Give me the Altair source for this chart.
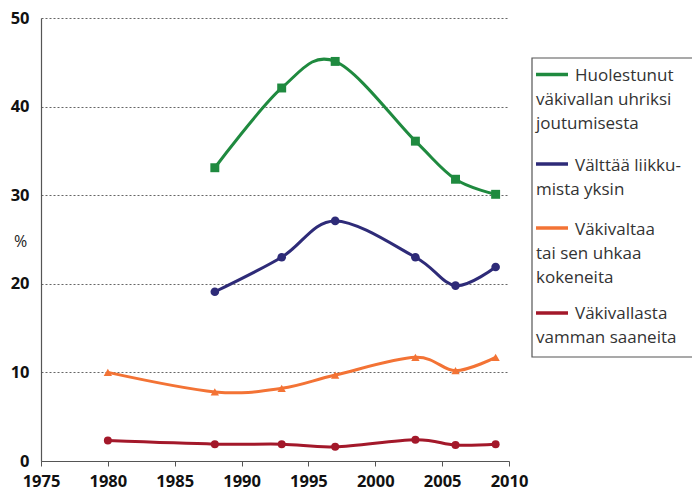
import altair as alt
import pandas as pd

years_green = [1988, 1993, 1997, 2003, 2006, 2009]
green = [33.1, 42.1, 45.1, 36.1, 31.8, 30.1]
years_blue = [1988, 1993, 1997, 2003, 2006, 2009]
blue = [19.1, 23.0, 27.1, 23.0, 19.8, 21.9]
years_orange = [1980, 1988, 1993, 1997, 2003, 2006, 2009]
orange = [10.0, 7.8, 8.2, 9.7, 11.7, 10.2, 11.7]
years_red = [1980, 1988, 1993, 1997, 2003, 2006, 2009]
red = [2.3, 1.9, 1.9, 1.6, 2.4, 1.8, 1.9]

series_keys = ["g", "b", "o", "r"]
series_colors = ["#1f8a3f", "#2e2b78", "#f37335", "#a3182a"]
series_shapes = ["square", "circle", "triangle-up", "circle"]
series_sizes = [80, 64, 140, 30]
legend_lines = [
    ["Huolestunut", "väkivallan uhriksi", "joutumisesta"],
    ["Välttää liikku-", "mista yksin"],
    [" Väkivaltaa", "tai sen uhkaa", "kokeneita"],
    ["Väkivallasta", "vamman saaneita"],
]
x_ticks = [1975, 1980, 1985, 1990, 1995, 2000, 2005, 2010]
y_ticks = [0, 10, 20, 30, 40, 50]

rows = []
for key, ys, vs in zip(series_keys, [years_green, years_blue, years_orange, years_red],
                       [green, blue, orange, red]):
    for y, v in zip(ys, vs):
        rows.append({"s": key, "year": y, "val": v})
df = pd.DataFrame(rows)

W, H = 468, 443
FONT = "Open Sans"

x_enc = alt.X("year:Q", scale=alt.Scale(domain=[1975, 2010], nice=False),
              axis=alt.Axis(values=x_ticks, format="d", title=None, grid=False,
                            labelFont=FONT, labelFontWeight="bold", labelFontSize=16.5,
                            labelColor="#111", labelPadding=7, tickSize=5,
                            tickColor="#555", domainColor="#555", domainWidth=1.2,
                            labelFlush=False))
y_enc = alt.Y("val:Q", scale=alt.Scale(domain=[0, 50], nice=False),
              axis=alt.Axis(values=y_ticks, title="%", titleAngle=0, titleX=-21, titleY=223,
                            titleAlign="center", titleBaseline="middle", titleFont=FONT,
                            titleFontSize=16, titleFontWeight="normal", titleColor="#222",
                            labelFont=FONT, labelFontWeight="bold", labelFontSize=16.5,
                            labelColor="#111", labelPadding=12, ticks=False,
                            grid=True, gridDash=[2, 2], gridColor="#666", gridWidth=1,
                            domainColor="#555", domainWidth=1.2))

color_scale = alt.Scale(domain=series_keys, range=series_colors)
shape_scale = alt.Scale(domain=series_keys, range=series_shapes)
size_scale = alt.Scale(domain=series_keys, range=series_sizes)

base = alt.Chart(df)
lines = base.mark_line(interpolate="cardinal", strokeWidth=3).encode(
    x=x_enc, y=y_enc,
    color=alt.Color("s:N", scale=color_scale, legend=None),
    detail="s:N",
)
points = base.mark_point(filled=True, opacity=1).encode(
    x="year:Q", y="val:Q",
    color=alt.Color("s:N", scale=color_scale, legend=None),
    shape=alt.Shape("s:N", scale=shape_scale, legend=None),
    size=alt.Size("s:N", scale=size_scale, legend=None),
)

dummy = alt.Chart(alt.Data(values=[{"a": 1}]))
layers = [lines, points]

# legend box
layers.append(dummy.mark_rect(fill=None, stroke="#555", strokeWidth=1.2).encode(
    x=alt.value(491), x2=alt.value(720), y=alt.value(40), y2=alt.value(339)))

sym_y = [56.5, 146, 210, 295]
first_y = [58, 148, 212, 296]
line_h = 23.8
for i in range(4):
    layers.append(dummy.mark_rule(strokeWidth=3.5, color=series_colors[i]).encode(
        x=alt.value(495), x2=alt.value(527), y=alt.value(sym_y[i])))
    for j, txt in enumerate(legend_lines[i]):
        layers.append(dummy.mark_text(align="left", baseline="middle", font=FONT,
                                      fontSize=17, color="#333").encode(
            x=alt.value(534 if j == 0 else 495),
            y=alt.value(first_y[i] + j * line_h),
            text=alt.value(txt)))

chart = alt.layer(*layers).properties(
    width=W, height=H,
    autosize=alt.AutoSizeParams(type="none"),
    padding={"left": 33, "top": 10, "right": 183, "bottom": 31},
).configure_view(stroke=None)

chart.save("out.html", embed_options={"renderer": "svg", "actions": False})
